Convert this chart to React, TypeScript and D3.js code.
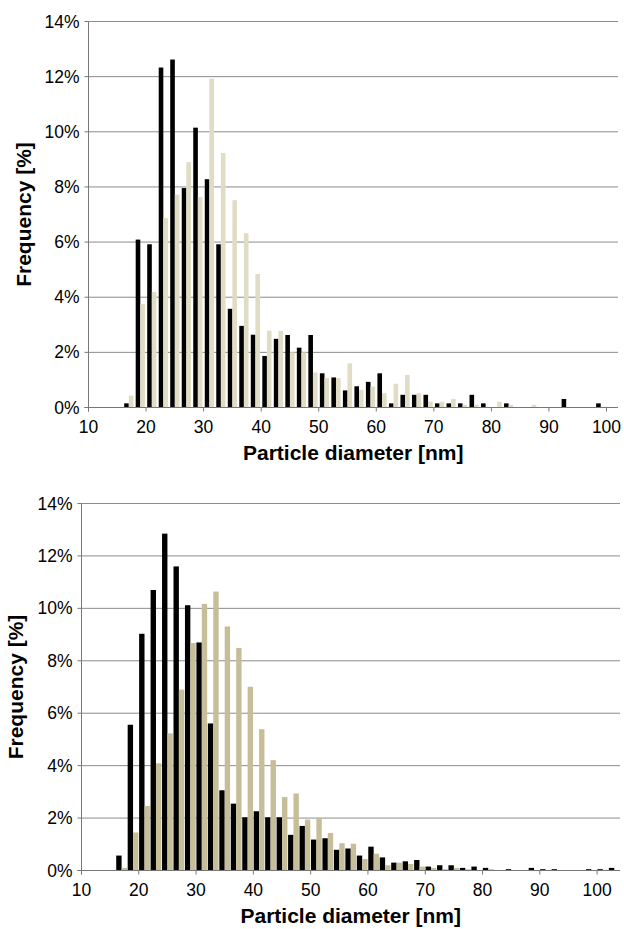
import React from "react";
import * as d3 from "d3";

const SVG_W = 624;
const SVG_H = 929;

// top panel: bin centres (nm) and frequency (%)
const topBins = [
  17, 19, 21, 23, 25, 27, 29, 31, 33, 35, 37, 39, 41, 43, 45, 47, 49, 51, 53, 55, 57,
  59, 61, 63, 65, 67, 69, 71, 73, 75, 77, 79, 81, 83, 85, 87, 89, 91, 93, 95, 97, 99,
];
const topBlack = [
  0.15, 6.09, 5.92, 12.33, 12.62, 7.96, 10.15, 8.28, 5.92, 3.58, 2.96, 2.64, 1.87, 2.49,
  2.63, 2.17, 2.63, 1.24, 1.09, 0.62, 0.77, 0.93, 1.24, 0.15, 0.46, 0.46, 0.46, 0.15,
  0.15, 0.15, 0.46, 0.15, 0, 0.15, 0, 0, 0, 0, 0.31, 0, 0, 0.15,
];
const topBeige = [
  0.43, 3.75, 4.19, 6.87, 7.72, 8.9, 7.63, 11.93, 9.23, 7.52, 6.32, 4.84, 2.79, 2.78,
  2.0, 2.0, 1.27, 1.07, 1.07, 1.6, 0.64, 0.76, 0.52, 0.86, 1.18, 0.52, 0.21, 0.21, 0.31,
  0.1, 0.1, 0, 0.21, 0.1, 0, 0.1, 0, 0, 0, 0, 0, 0,
];

// bottom panel
const botBins = [
  17, 19, 21, 23, 25, 27, 29, 31, 33, 35, 37, 39, 41, 43, 45, 47, 49, 51, 53, 55, 57,
  59, 61, 63, 65, 67, 69, 71, 73, 75, 77, 79, 81, 83, 85, 87, 89, 91, 93, 95, 97, 99,
  101, 103,
];
const botBlack = [
  0.57, 5.56, 9.03, 10.7, 12.85, 11.6, 10.12, 8.7, 5.61, 3.06, 2.55, 2.03, 2.26, 2.03,
  2.03, 1.36, 1.7, 1.18, 1.23, 0.79, 0.84, 0.57, 0.91, 0.5, 0.3, 0.35, 0.4, 0.15, 0.2,
  0.2, 0.1, 0.15, 0.1, 0, 0.05, 0, 0.1, 0.05, 0.05, 0, 0, 0.05, 0.05, 0.1,
];
const botBeige = [
  0.1, 1.45, 2.46, 4.09, 5.23, 6.9, 8.68, 10.17, 10.64, 9.31, 8.49, 7.01, 5.39, 4.21,
  2.8, 2.94, 1.94, 2.01, 1.43, 1.04, 1.02, 0.44, 0.64, 0.2, 0.3, 0.25, 0.15, 0.1, 0.05,
  0.1, 0.05, 0, 0.05, 0, 0, 0, 0, 0, 0, 0, 0, 0, 0, 0,
];

const yTicks = [0, 2, 4, 6, 8, 10, 12, 14];
const xTicks = [10, 20, 30, 40, 50, 60, 70, 80, 90, 100];

const font = "'Liberation Sans', Arial, sans-serif";

const Panel = (p: any) => {
  const x = d3.scaleLinear().domain(p.xDomain).range([p.left, p.right]);
  const y = d3.scaleLinear().domain([0, 14]).range([p.bottom, p.top]);
  const barW = ((x(2) - x(0)) * p.fill) / 2;

  return (
    <g>
      {yTicks.slice(1).map((t) => (
        <line key={"g" + t} x1={p.left} x2={p.right} y1={y(t)} y2={y(t)} stroke="#8c8c8c" strokeWidth={1} />
      ))}
      {p.bins.map((b: number, i: number) => (
        <g key={"b" + b}>
          {p.black[i] > 0 && (
            <rect x={x(b) - barW} y={y(p.black[i])} width={barW} height={y(0) - y(p.black[i])} fill="#000" />
          )}
          {p.beige[i] > 0 && (
            <rect x={x(b)} y={y(p.beige[i])} width={barW} height={y(0) - y(p.beige[i])} fill={p.beigeColor} />
          )}
        </g>
      ))}
      <line x1={p.left} x2={p.left} y1={p.top} y2={p.bottom + 4} stroke="#777" />
      <line x1={p.left - 4} x2={p.right} y1={p.bottom} y2={p.bottom} stroke="#777" />
      {yTicks.map((t) => (
        <g key={"y" + t}>
          <line x1={p.left - 4} x2={p.left} y1={y(t)} y2={y(t)} stroke="#777" />
          <text x={p.left - 9} y={y(t)} dy="0.35em" textAnchor="end" fontSize={17.5} fontFamily={font}>
            {t + "%"}
          </text>
        </g>
      ))}
      {xTicks.map((t) => (
        <g key={"x" + t}>
          <line x1={x(t)} x2={x(t)} y1={p.bottom} y2={p.bottom + 4} stroke="#777" />
          <text x={x(t)} y={p.bottom + 25} textAnchor="middle" fontSize={17.5} fontFamily={font}>
            {t}
          </text>
        </g>
      ))}
      <text
        x={(p.left + p.right) / 2}
        y={p.bottom + 52}
        textAnchor="middle"
        fontSize={21}
        fontWeight="bold"
        fontFamily={font}
      >
        Particle diameter [nm]
      </text>
      <text
        transform={`translate(${p.yTitleX},${(p.top + p.bottom) / 2}) rotate(-90)`}
        textAnchor="middle"
        dy="0.35em"
        fontSize={21}
        fontWeight="bold"
        fontFamily={font}
      >
        Frequency [%]
      </text>
    </g>
  );
};

export default function App() {
  return (
    <svg width={SVG_W} height={SVG_H} style={{ position: "absolute", left: 0, top: 0, background: "#fff" }}>
      <Panel
        bins={topBins}
        black={topBlack}
        beige={topBeige}
        beigeColor="#e0dcc6"
        xDomain={[10, 102]}
        left={88.5}
        right={618}
        top={21.5}
        bottom={407.5}
        fill={0.8}
        yTitleX={24}
      />
      <Panel
        bins={botBins}
        black={botBlack}
        beige={botBeige}
        beigeColor="#c6be98"
        xDomain={[10, 104]}
        left={81.5}
        right={620}
        top={503.5}
        bottom={870.5}
        fill={0.94}
        yTitleX={16}
      />
    </svg>
  );
}
